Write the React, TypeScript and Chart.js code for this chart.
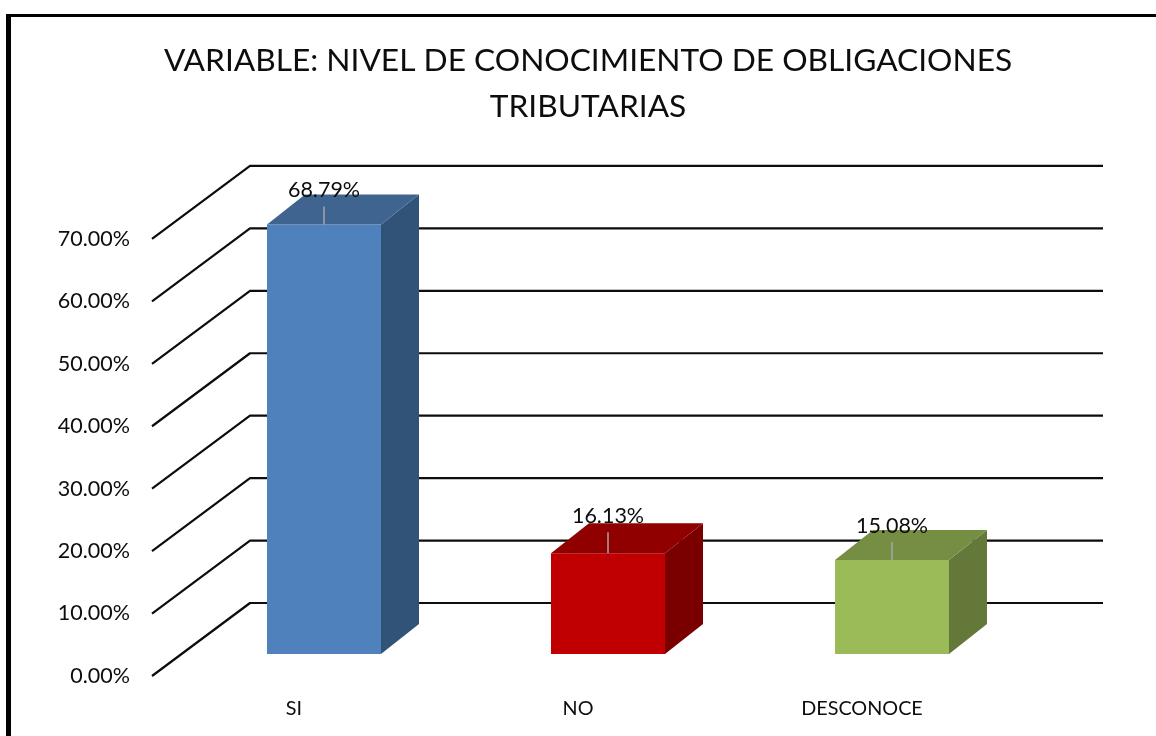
import React, { useEffect, useRef } from "react";
import { Chart, registerables } from "chart.js";

Chart.register(...registerables);

const categories = ["SI", "NO", "DESCONOCE"];
const percentages = [68.79, 16.13, 15.08];
const titleLines = ["VARIABLE: NIVEL DE CONOCIMIENTO DE OBLIGACIONES", "TRIBUTARIAS"];
const frontColors = ["#4f81bd", "#c00000", "#9bbb59"];
const topColors = ["#3f6490", "#900000", "#768e44"];
const sideColors = ["#325378", "#7a0000", "#64783a"];
const labelOffsets = [34, 37, 34];
const leaderStart = [18, 21, 18];

const FONT = "Lato, Carlito, sans-serif";
const WALL_DX = 99;
const WALL_DY = 73;
const WALL_RIGHT = 1103;
const BAR_DX = 38;
const BAR_DY = 30;

const fmt = (v: number) => v.toFixed(2) + "%";

const frame = {
  id: "frame",
  beforeDraw(chart: any) {
    const { ctx } = chart;
    ctx.save();
    ctx.fillStyle = "#ffffff";
    ctx.fillRect(0, 0, chart.width, chart.height);
    ctx.fillStyle = "#000000";
    ctx.fillRect(6, 14, chart.width - 6, 3);
    ctx.fillRect(6, 14, 5, chart.height - 14);
    ctx.restore();
  },
};

const wall = {
  id: "wall",
  beforeDatasetsDraw(chart: any) {
    const { ctx, scales } = chart;
    const y = scales.y;
    const left = 152;
    ctx.save();
    ctx.strokeStyle = "#0d0d0d";
    ctx.lineWidth = 2.2;
    ctx.lineJoin = "round";
    for (const t of y.ticks) {
      const py = y.getPixelForValue(t.value);
      ctx.beginPath();
      ctx.moveTo(left, py);
      ctx.lineTo(left + WALL_DX - 1, py - WALL_DY);
      ctx.lineTo(WALL_RIGHT, py - WALL_DY);
      ctx.stroke();
    }
    ctx.restore();
  },
};

const boxes = {
  id: "boxes",
  afterDatasetsDraw(chart: any) {
    const { ctx } = chart;
    const bars = chart.getDatasetMeta(0).data;
    ctx.save();
    bars.forEach((b: any, i: number) => {
      const l = b.x - b.width / 2;
      const r = b.x + b.width / 2;
      const top = b.y;
      const base = b.base;
      ctx.fillStyle = sideColors[i];
      ctx.beginPath();
      ctx.moveTo(r, top);
      ctx.lineTo(r + BAR_DX, top - BAR_DY);
      ctx.lineTo(r + BAR_DX, base - BAR_DY);
      ctx.lineTo(r, base);
      ctx.closePath();
      ctx.fill();
      ctx.fillStyle = topColors[i];
      ctx.beginPath();
      ctx.moveTo(l, top);
      ctx.lineTo(l + BAR_DX, top - BAR_DY);
      ctx.lineTo(r + BAR_DX, top - BAR_DY);
      ctx.lineTo(r, top);
      ctx.closePath();
      ctx.fill();
      ctx.strokeStyle = "#a6a6a6";
      ctx.lineWidth = 1.5;
      ctx.beginPath();
      ctx.moveTo(b.x, top - leaderStart[i]);
      ctx.lineTo(b.x, top);
      ctx.stroke();
      ctx.fillStyle = "#0d0d0d";
      ctx.font = `21.5px ${FONT}`;
      ctx.textAlign = "center";
      ctx.textBaseline = "middle";
      ctx.fillText(fmt(percentages[i]), b.x, top - labelOffsets[i]);
    });
    ctx.restore();
  },
};

export default function App() {
  const ref = useRef<HTMLCanvasElement | null>(null);

  useEffect(() => {
    document.body.style.margin = "0";
    const chart = new Chart(ref.current as HTMLCanvasElement, {
      type: "bar",
      data: {
        labels: categories,
        datasets: [
          {
            data: percentages,
            backgroundColor: frontColors,
            borderWidth: 0,
            barPercentage: 114 / 284,
            categoryPercentage: 1,
            yAxisID: "yBars",
            clip: false,
          },
        ],
      },
      plugins: [frame, wall, boxes],
      options: {
        animation: false,
        responsive: false,
        layout: { padding: { left: 20, right: 0, top: 38, bottom: 0 } },
        plugins: {
          legend: { display: false },
          tooltip: { enabled: false },
          title: {
            display: true,
            text: titleLines,
            color: "#0d0d0d",
            font: { family: FONT, size: 31.7, weight: "normal", lineHeight: 1.45 },
            padding: { top: 0, bottom: 109 },
          },
        },
        scales: {
          x: {
            grid: { display: false, drawTicks: false },
            border: { display: false },
            ticks: { color: "#0d0d0d", font: { family: FONT, size: 19.8 }, labelOffset: -30, padding: 21, maxRotation: 0 },
            afterFit(s: any) {
              s.height = 60;
            },
          },
          y: {
            position: "left",
            min: 0,
            max: 70,
            grid: { display: false, drawTicks: false },
            border: { display: false },
            ticks: { stepSize: 10, color: "#0d0d0d", font: { family: FONT, size: 21.5 }, padding: 52, callback: (v: any) => fmt(Number(v)) },
            afterFit(s: any) {
              s.width = 162;
              s.paddingTop = 0;
              s.paddingBottom = 0;
            },
          },
          yBars: {
            position: "right",
            min: -3.516,
            max: 66.484,
            grid: { display: false, drawTicks: false },
            border: { display: false },
            ticks: { display: false },
            afterFit(s: any) {
              s.width = 122;
              s.paddingTop = 0;
              s.paddingBottom = 0;
            },
          },
        },
      } as any,
    });
    return () => chart.destroy();
  }, []);

  return <canvas ref={ref} width={1156} height={736} style={{ display: "block" }} />;
}
